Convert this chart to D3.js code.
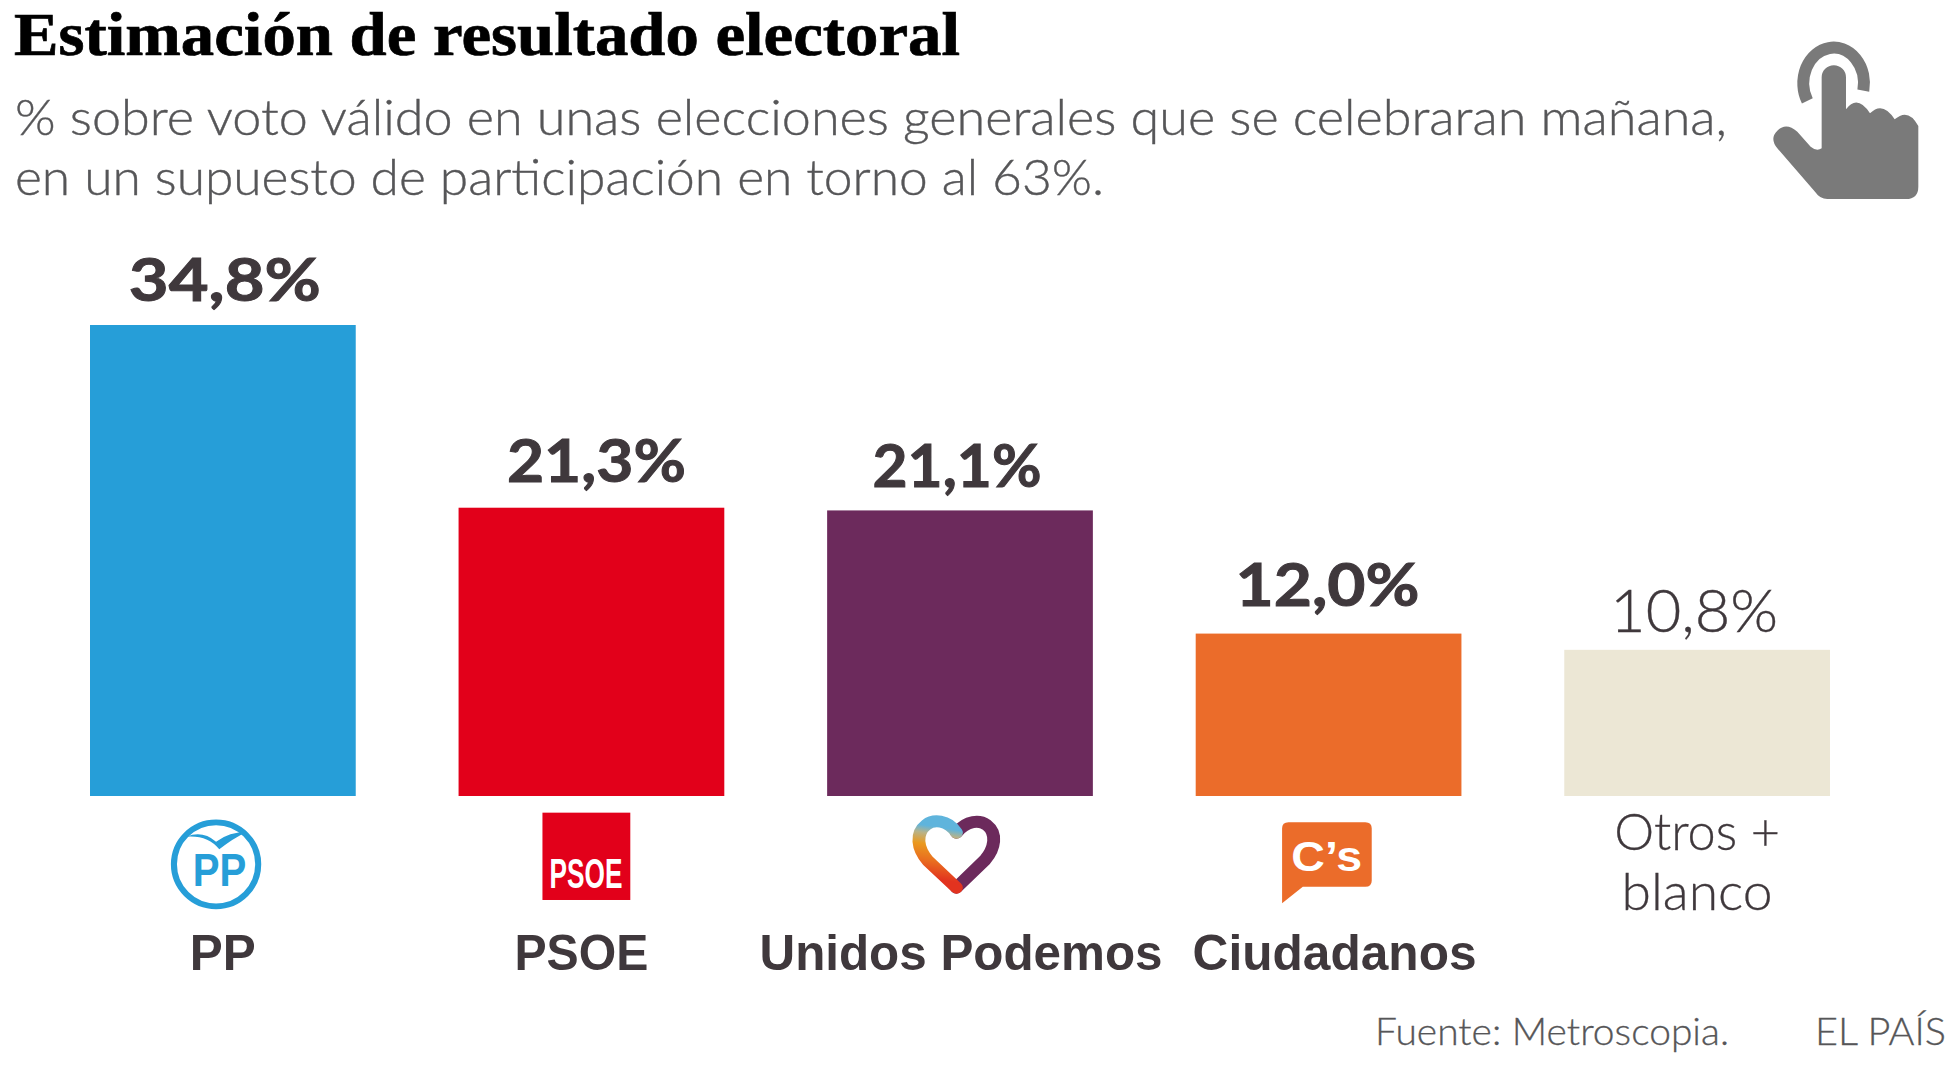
<!DOCTYPE html>
<html>
<head>
<meta charset="utf-8">
<script src="https://cdn.jsdelivr.net/npm/d3@7"></script>
<style>
  html, body { margin: 0; padding: 0; background: #fff; }
  svg { display: block; }
</style>
</head>
<body>
<svg id="chart" width="1960" height="1090"></svg>
<script>
/* data */
const parties = ["PP", "PSOE", "Unidos Podemos", "Ciudadanos", "Otros"]
const values = [34.8, 21.3, 21.1, 12.0, 10.8]
const valueLabels = ["34,8%", "21,3%", "21,1%", "12,0%", "10,8%"]
const colors = ["#269ED8", "#E2001A", "#6C2A5C", "#EB6C2A", "#ECE7D5"]

const title = "Estimación de resultado electoral"
const subtitle = [
  "% sobre voto válido en unas elecciones generales que se celebraran mañana,",
  "en un supuesto de participación en torno al 63%."
]

/* layout: hand placed offsets, the labels in the original are not centered */
const valueDx = [2, 5, -3, -1, -3]
const valueGap = [24, 26, 23, 28, 18]
const valueW = [192, 179, 169, 184, 168]
const nameDx = [0, -10, 1, 6]
const nameW = [66, 134, 403, 284]
const otherW = [166, 151]

const ink = "#3F383C"
const grey = "#565658"
const sans = "Lato, 'Liberation Sans', sans-serif"
const arial = "'Liberation Sans', Arial, sans-serif"

const svg = d3.select("#chart")

const x = d3.scaleBand().domain(parties).range([90, 1830]).paddingInner(0.279)
const y = d3.scaleLinear().domain([0, 34.8]).range([796, 325])

/* header */
svg.append("text")
  .attr("x", 14).attr("y", 55.3)
  .attr("textLength", 946).attr("lengthAdjust", "spacingAndGlyphs")
  .style("font", "bold 62px 'Liberation Serif', serif")
  .attr("fill", "#000")
  .attr("stroke", "#000").attr("stroke-width", 0.7)
  .text(title)

svg.selectAll("text.sub")
  .data(subtitle)
  .join("text")
  .attr("class", "sub")
  .attr("x", 15)
  .attr("y", (d, i) => 135 + i * 60)
  .attr("textLength", (d, i) => [1712, 1089][i])
  .attr("lengthAdjust", "spacingAndGlyphs")
  .style("font", "300 50px " + sans)
  .attr("fill", grey)
  .attr("stroke", grey).attr("stroke-width", 0.4)
  .text(d => d)

/* bars */
svg.selectAll("rect.bar")
  .data(parties)
  .join("rect")
  .attr("class", "bar")
  .attr("x", d => x(d))
  .attr("y", (d, i) => y(values[i]))
  .attr("width", x.bandwidth())
  .attr("height", (d, i) => y(0) - y(values[i]))
  .attr("fill", (d, i) => colors[i])

svg.selectAll("text.val")
  .data(parties)
  .join("text")
  .attr("class", "val")
  .attr("x", (d, i) => x(d) + x.bandwidth() / 2 + valueDx[i] - valueW[i] / 2)
  .attr("y", (d, i) => y(values[i]) - valueGap[i])
  .attr("textLength", (d, i) => valueW[i])
  .attr("lengthAdjust", "spacingAndGlyphs")
  .style("font", (d, i) => (i < 4 ? "bold " : "300 ") + "60px " + sans)
  .attr("fill", ink)
  .attr("stroke", ink).attr("stroke-width", (d, i) => (i < 4 ? 1 : 0.4))
  .text((d, i) => valueLabels[i])

/* party names */
svg.selectAll("text.name")
  .data(parties.slice(0, 4))
  .join("text")
  .attr("class", "name")
  .attr("x", (d, i) => x(d) + x.bandwidth() / 2 + nameDx[i] - nameW[i] / 2)
  .attr("y", 970)
  .attr("textLength", (d, i) => nameW[i])
  .attr("lengthAdjust", "spacingAndGlyphs")
  .style("font", "bold 50px " + arial)
  .attr("fill", ink)
  .text(d => d)

const otherX = x("Otros") + x.bandwidth() / 2
svg.selectAll("text.other")
  .data(["Otros +", "blanco"])
  .join("text")
  .attr("class", "other")
  .attr("x", (d, i) => otherX - otherW[i] / 2)
  .attr("y", (d, i) => 850 + i * 60)
  .attr("textLength", (d, i) => otherW[i])
  .attr("lengthAdjust", "spacingAndGlyphs")
  .style("font", "300 52px " + sans)
  .attr("fill", ink)
  .attr("stroke", ink).attr("stroke-width", 0.3)
  .text(d => d)

/* footer */
svg.append("text")
  .attr("x", 1375).attr("y", 1045)
  .attr("textLength", 354).attr("lengthAdjust", "spacingAndGlyphs")
  .style("font", "300 37px " + sans)
  .attr("fill", grey)
  .attr("stroke", grey).attr("stroke-width", 0.3)
  .text("Fuente: Metroscopia.")
svg.append("text")
  .attr("x", 1815).attr("y", 1045)
  .attr("textLength", 131).attr("lengthAdjust", "spacingAndGlyphs")
  .style("font", "300 37px " + sans)
  .attr("fill", grey)
  .attr("stroke", grey).attr("stroke-width", 0.3)
  .text("EL PAÍS")

/* hand icon, drawn in zoomed units */
const hand = svg.append("g").attr("transform", "translate(1740,20) scale(0.3333)")
hand.append("path")
  .attr("d", "M202,243 A91,107 0 1 1 370,212")
  .attr("fill", "none").attr("stroke", "#7A7A7A").attr("stroke-width", 36)
hand.append("path")
  .attr("d", "M245,172 A36,36 0 0 1 318,172 L318,268 Q352,222 390,280 Q428,242 464,298 Q505,262 535,318 L535,500 Q535,537 498,537 L262,537 Q240,537 225,515 L112,385 Q88,355 112,332 Q138,305 172,335 L212,380 Q230,395 245,385 Z")
  .attr("fill", "#7A7A7A")

/* logos below, drawn in zoomed units of the crops (2.8x wide, 3x high) */
const logoLeft = "translate(140,790) scale(0.3571,0.3333)"
const logoRight = "translate(860,790) scale(0.3571,0.3333)"

/* PP logo */
const pp = svg.append("g").attr("transform", logoLeft)
pp.append("ellipse")
  .attr("cx", 213).attr("cy", 223).attr("rx", 118).attr("ry", 126)
  .attr("fill", "none").attr("stroke", colors[0]).attr("stroke-width", 17)
pp.append("path")
  .attr("d", "M130,140 Q175,120 213,155 Q250,125 300,125 Q260,145 222,178 Q190,135 130,140 Z")
  .attr("fill", colors[0])
pp.append("text")
  .attr("x", 148).attr("y", 288)
  .attr("textLength", 150).attr("lengthAdjust", "spacingAndGlyphs")
  .style("font", "bold 136px " + arial)
  .attr("fill", colors[0])
  .text("PP")

/* PSOE logo */
const psoe = svg.append("g").attr("transform", logoLeft)
psoe.append("rect")
  .attr("x", 1127).attr("y", 68).attr("width", 246).attr("height", 262)
  .attr("fill", colors[1])
psoe.append("text")
  .attr("x", 1147).attr("y", 293)
  .attr("textLength", 204).attr("lengthAdjust", "spacingAndGlyphs")
  .style("font", "bold 130px " + arial)
  .attr("fill", "#fff")
  .text("PSOE")

/* Podemos heart */
const defs = svg.append("defs")
const heartGrad = defs.append("linearGradient")
  .attr("id", "heartGrad")
  .attr("gradientUnits", "userSpaceOnUse")
  .attr("x1", 270).attr("y1", 120).attr("x2", 240).attr("y2", 300)
heartGrad.selectAll("stop")
  .data([[0, "#5FB4DC"], [0.12, "#B7B38A"], [0.3, "#EA9A1F"], [0.55, "#E9701F"], [0.85, "#E2331F"]])
  .join("stop")
  .attr("offset", d => d[0])
  .attr("stop-color", d => d[1])

const heart = svg.append("g")
  .attr("transform", logoRight)
  .attr("fill", "none").attr("stroke-width", 36)
  .attr("stroke-linejoin", "round").attr("stroke-linecap", "round")
heart.append("path")
  .attr("d", "M270,128 C300,90 335,90 355,105 C385,130 378,175 350,210 L270,293")
  .attr("stroke", colors[2])
heart.append("path")
  .attr("d", "M270,128 C245,88 205,88 185,105 C155,130 160,175 190,212 L270,293")
  .attr("stroke", "url(#heartGrad)")

/* Ciudadanos logo */
const cs = svg.append("g").attr("transform", logoRight)
cs.append("path")
  .attr("d", "M1200,97 L1415,97 Q1433,97 1433,115 L1433,272 Q1433,290 1415,290 L1240,290 L1182,340 L1182,115 Q1182,97 1200,97 Z")
  .attr("fill", colors[3])
cs.append("text")
  .attr("x", 1208).attr("y", 244)
  .attr("textLength", 198).attr("lengthAdjust", "spacingAndGlyphs")
  .style("font", "bold 130px " + arial)
  .attr("fill", "#fff")
  .text("C’s")
</script>
</body>
</html>
